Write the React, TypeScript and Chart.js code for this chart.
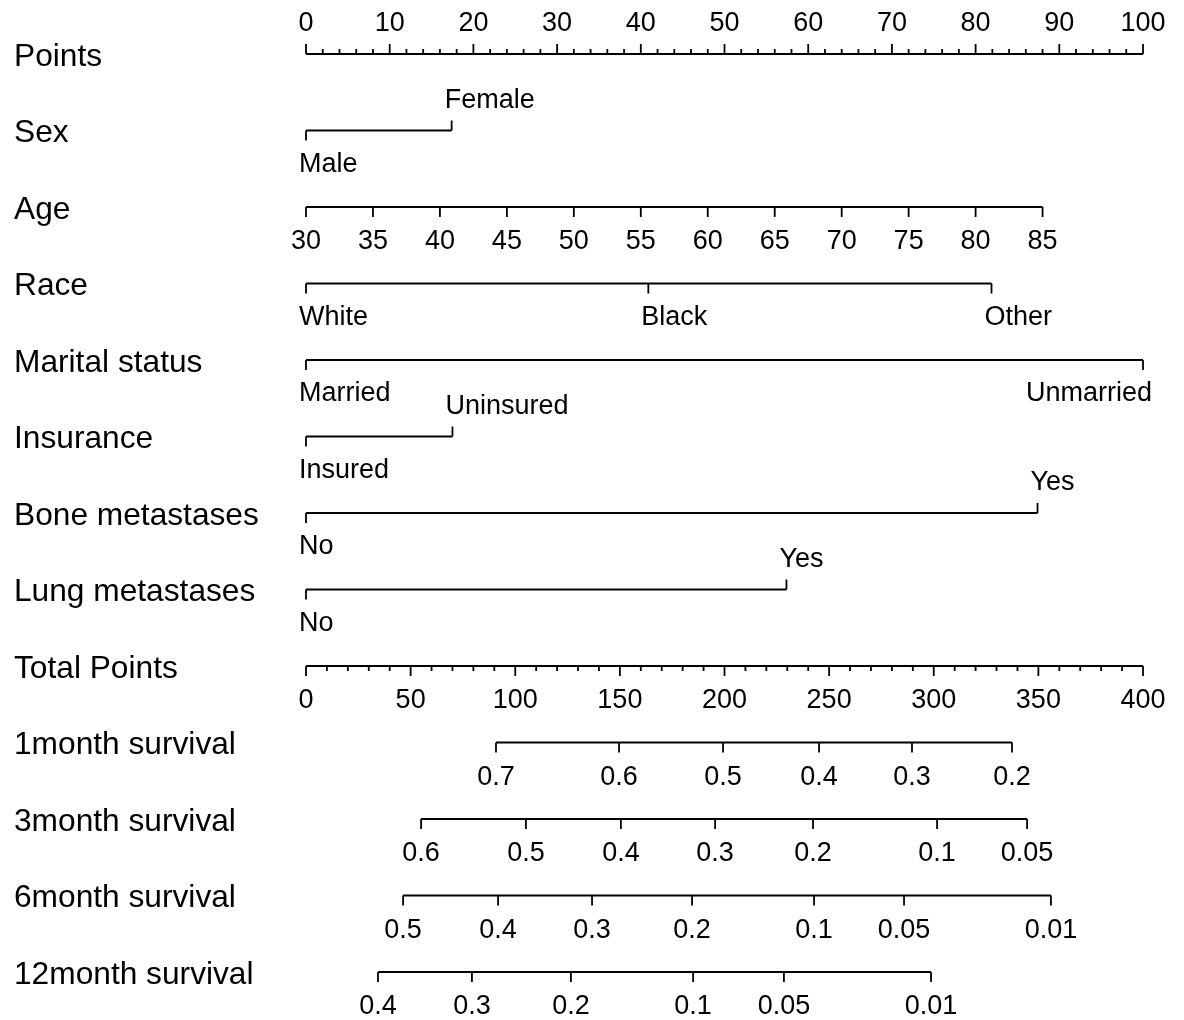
import { useEffect, useRef } from "react";
import { Chart, registerables } from "chart.js";

Chart.register(...registerables);

// ---------- data ----------
const rowNames = [
  "Points",
  "Sex",
  "Age",
  "Race",
  "Marital status",
  "Insurance",
  "Bone metastases",
  "Lung metastases",
  "Total Points",
  "1month survival",
  "3month survival",
  "6month survival",
  "12month survival",
];

const pointsTicks = [0, 10, 20, 30, 40, 50, 60, 70, 80, 90, 100];
const pointsMinorStep = 2;

const sexLevels = ["Male", "Female"];
const sexPoints = [0, 17.4];

const ageLevels = ["30", "35", "40", "45", "50", "55", "60", "65", "70", "75", "80", "85"];
const agePoints = [0, 8, 16, 24, 32, 40, 48, 56, 64, 72, 80, 88];

const raceLevels = ["White", "Black", "Other"];
const racePoints = [0, 40.9, 81.9];

const maritalLevels = ["Married", "Unmarried"];
const maritalPoints = [0, 100];

const insuranceLevels = ["Insured", "Uninsured"];
const insurancePoints = [0, 17.5];

const boneLevels = ["No", "Yes"];
const bonePoints = [0, 87.4];

const lungLevels = ["No", "Yes"];
const lungPoints = [0, 57.4];

const totalTicks = [0, 50, 100, 150, 200, 250, 300, 350, 400];
const totalMinorStep = 10;

const surv1Labels = ["0.7", "0.6", "0.5", "0.4", "0.3", "0.2"];
const surv1Total = [90.8, 149.6, 199.3, 245.2, 289.6, 337.4];

const surv3Labels = ["0.6", "0.5", "0.4", "0.3", "0.2", "0.1", "0.05"];
const surv3Total = [55.0, 105.1, 150.5, 195.5, 242.3, 301.6, 344.6];

const surv6Labels = ["0.5", "0.4", "0.3", "0.2", "0.1", "0.05", "0.01"];
const surv6Total = [46.4, 91.8, 136.7, 184.5, 242.8, 285.8, 356.0];

const surv12Labels = ["0.4", "0.3", "0.2", "0.1", "0.05", "0.01"];
const surv12Total = [34.4, 79.3, 126.6, 185.0, 228.4, 298.7];

// ---------- layout / style config ----------
type Row = {
  kind: "axisTop" | "axisBottom" | "num" | "cat";
  axis: "x" | "xt";
  labels: string[];
  values: number[];
  up?: boolean[];
  minorStep?: number;
};

const rows: Row[] = [
  { kind: "axisTop", axis: "x", labels: pointsTicks.map(String), values: pointsTicks, minorStep: pointsMinorStep },
  { kind: "cat", axis: "x", labels: sexLevels, values: sexPoints, up: [false, true] },
  { kind: "num", axis: "x", labels: ageLevels, values: agePoints },
  { kind: "cat", axis: "x", labels: raceLevels, values: racePoints, up: [false, false, false] },
  { kind: "cat", axis: "x", labels: maritalLevels, values: maritalPoints, up: [false, false] },
  { kind: "cat", axis: "x", labels: insuranceLevels, values: insurancePoints, up: [false, true] },
  { kind: "cat", axis: "x", labels: boneLevels, values: bonePoints, up: [false, true] },
  { kind: "cat", axis: "x", labels: lungLevels, values: lungPoints, up: [false, true] },
  { kind: "axisBottom", axis: "xt", labels: totalTicks.map(String), values: totalTicks, minorStep: totalMinorStep },
  { kind: "num", axis: "xt", labels: surv1Labels, values: surv1Total },
  { kind: "num", axis: "xt", labels: surv3Labels, values: surv3Total },
  { kind: "num", axis: "xt", labels: surv6Labels, values: surv6Total },
  { kind: "num", axis: "xt", labels: surv12Labels, values: surv12Total },
];

const FONT = "'Liberation Sans', Arial, Helvetica, sans-serif";
const ROW_FONT = `31.7px ${FONT}`;
const TICK_FONT = `27px ${FONT}`;
const LINE_W = 1.8;
const MAJOR = 10;
const MINOR = 5;
const LABEL_GAP = 35;

const nomogramPlugin = {
  id: "nomogram",
  afterDatasetsDraw(chart: any) {
    const ctx: CanvasRenderingContext2D = chart.ctx;
    const ys = chart.scales.y;
    ctx.save();
    ctx.strokeStyle = "#000";
    ctx.fillStyle = "#000";
    ctx.lineWidth = LINE_W;
    rows.forEach((row, i) => {
      const y = ys.getPixelForValue(i);
      const xs = chart.scales[row.axis];
      // row name
      ctx.font = ROW_FONT;
      ctx.textAlign = "left";
      ctx.textBaseline = "middle";
      ctx.fillText(rowNames[i], 14, y + 3);

      ctx.font = TICK_FONT;
      const tick = (px: number, len: number) => {
        ctx.beginPath();
        ctx.moveTo(px, y);
        ctx.lineTo(px, y + len);
        ctx.stroke();
      };

      if (row.kind === "axisTop" || row.kind === "axisBottom") {
        const dir = row.kind === "axisTop" ? -1 : 1;
        const lo = row.values[0];
        const hi = row.values[row.values.length - 1];
        const step = row.minorStep as number;
        for (let v = lo; v <= hi + 1e-9; v += step) {
          if (!row.values.includes(v)) tick(xs.getPixelForValue(v), dir * MINOR);
        }
        row.values.forEach((v, k) => {
          const px = xs.getPixelForValue(v);
          tick(px, dir * MAJOR);
          ctx.textAlign = "center";
          ctx.fillText(row.labels[k], px, dir < 0 ? y - 30 : y + LABEL_GAP);
        });
      } else if (row.kind === "num") {
        row.values.forEach((v, k) => {
          const px = xs.getPixelForValue(v);
          tick(px, MAJOR);
          ctx.textAlign = "center";
          ctx.fillText(row.labels[k], px, y + LABEL_GAP);
        });
      } else {
        row.values.forEach((v, k) => {
          const px = xs.getPixelForValue(v);
          const up = row.up ? row.up[k] : false;
          tick(px, up ? -MAJOR : MAJOR);
          const w = ctx.measureText(row.labels[k]).width;
          let tx = px - 7;
          ctx.textAlign = "left";
          if (tx + w > chart.width - 10) {
            ctx.textAlign = "right";
            tx = px + 9;
          }
          ctx.fillText(row.labels[k], tx, y + (up ? -30 : 34));
        });
      }
    });
    ctx.restore();
  },
};

export default function App() {
  const ref = useRef<HTMLCanvasElement | null>(null);

  useEffect(() => {
    document.body.style.margin = "0";
    const canvas = ref.current;
    if (!canvas) return;

    const datasets = rows.map((row, i) => {
      const lo = Math.min(...row.values);
      const hi = Math.max(...row.values);
      return {
        label: rowNames[i],
        data: [
          { x: lo, y: i },
          { x: hi, y: i },
        ],
        xAxisID: row.axis,
        yAxisID: "y",
        showLine: true,
        pointRadius: 0,
        borderColor: "#000",
        borderWidth: LINE_W,
        clip: false as const,
      };
    });

    const chart = new Chart(canvas, {
      type: "scatter",
      data: { datasets },
      options: {
        responsive: false,
        animation: false,
        devicePixelRatio: 1,
        events: [],
        layout: { padding: { left: 306, right: 41, top: 54, bottom: 48 } },
        plugins: { legend: { display: false }, tooltip: { enabled: false } },
        scales: {
          x: { type: "linear", min: 0, max: 100, display: false },
          xt: { type: "linear", min: 0, max: 400, display: false },
          y: { type: "linear", min: 0, max: rowNames.length - 1, reverse: true, display: false },
        },
      },
      plugins: [nomogramPlugin],
    });
    return () => chart.destroy();
  }, []);

  return (
    <div style={{ width: 1184, height: 1020, background: "#fff" }}>
      <canvas ref={ref} width={1184} height={1020} style={{ display: "block" }} />
    </div>
  );
}
